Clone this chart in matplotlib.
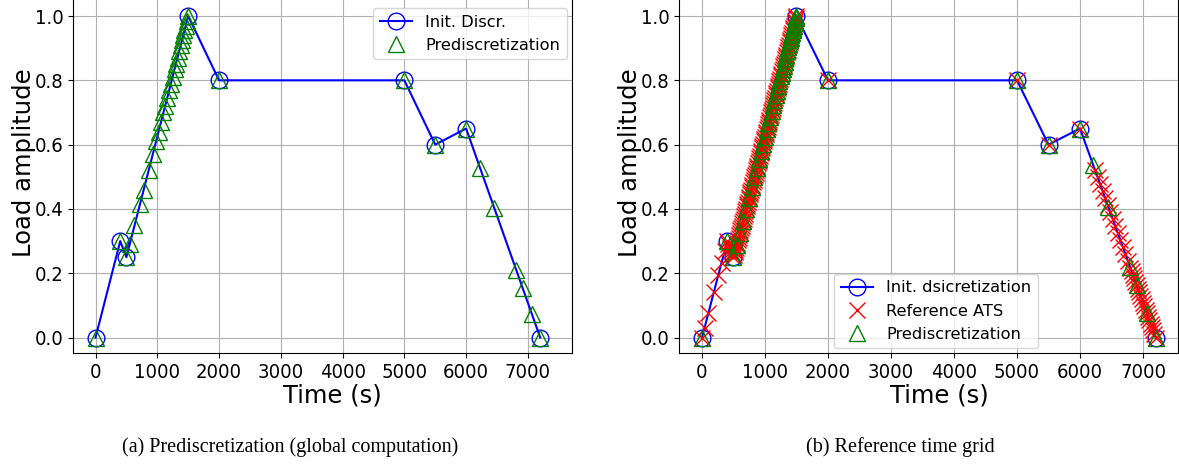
import numpy as np
import matplotlib
matplotlib.use("Agg")
import matplotlib.pyplot as plt

# initial discretization of the load path
t_init = [0, 400, 500, 1500, 2000, 5000, 5500, 6000, 7200]
y_init = [0.0, 0.3, 0.25, 1.0, 0.8, 0.8, 0.6, 0.65, 0.0]

# prediscretization, global computation (panel a)
t_pre_a = [0, 400, 500, 550, 630, 720, 780, 860, 930, 980, 1020, 1060, 1100,
           1130, 1160, 1190, 1220, 1250, 1280, 1300, 1330, 1350, 1380, 1400,
           1420, 1440, 1460, 1480, 1500, 2000, 5000, 5500, 6000, 6227, 6455,
           6810, 6915, 7063, 7200]
y_pre_a = [0.0, 0.3, 0.25, 0.29, 0.35, 0.415, 0.46, 0.52, 0.57, 0.61, 0.64,
           0.67, 0.70, 0.72, 0.745, 0.77, 0.79, 0.81, 0.835, 0.85, 0.87, 0.89,
           0.91, 0.925, 0.94, 0.955, 0.97, 0.985, 1.0, 0.8, 0.8, 0.6, 0.65,
           0.527, 0.403, 0.211, 0.154, 0.074, 0.0]

# prediscretization (panel b)
t_pre_b = [0, 400, 500, 550, 600, 650, 700, 745, 790, 830, 870, 905, 940, 970,
           1000, 1030, 1055, 1080, 1105, 1130, 1150, 1170, 1190, 1210, 1230,
           1250, 1265, 1280, 1295, 1310, 1325, 1340, 1355, 1370, 1385, 1400,
           1410, 1420, 1430, 1440, 1450, 1460, 1470, 1480, 1490, 1500, 2000,
           5000, 5500, 6000, 6211, 6450, 6794, 6900, 7058, 7200]
y_pre_b = [0.0, 0.3, 0.25, 0.288, 0.325, 0.363, 0.4, 0.434, 0.468, 0.498,
           0.528, 0.554, 0.58, 0.603, 0.625, 0.648, 0.666, 0.685, 0.704,
           0.723, 0.738, 0.753, 0.768, 0.783, 0.798, 0.813, 0.824, 0.835,
           0.846, 0.858, 0.869, 0.88, 0.891, 0.903, 0.914, 0.925, 0.933, 0.94,
           0.948, 0.955, 0.963, 0.97, 0.978, 0.985, 0.993, 1.0, 0.8, 0.8, 0.6,
           0.65, 0.536, 0.406, 0.22, 0.163, 0.077, 0.0]

# reference adaptive time stepping
t_ref = [0, 40, 100, 190, 260, 310, 360, 400, 420, 440, 460, 480,
         500, 520, 540, 560, 580, 600, 620, 640, 660, 680, 700, 720, 740,
         760, 780, 800, 820, 840, 860, 880, 900, 920, 940, 960, 980, 1000,
         1020, 1040, 1060, 1080, 1100, 1120, 1140, 1160, 1180, 1200, 1220,
         1240, 1260, 1280, 1300, 1320, 1340, 1360, 1380, 1400, 1420, 1440,
         1460, 1480, 1500,
         510, 530, 550, 570, 590, 610, 630, 650, 670, 690, 710, 730, 750,
         770, 790, 810, 830, 850, 870, 890, 910, 930, 950, 970, 990, 1010,
         1030, 1050, 1070, 1090, 1110, 1130, 1150, 1170, 1190, 1210, 1230,
         1250, 1270, 1290, 1310, 1330, 1350, 1370, 1390, 1410, 1430, 1450,
         1470, 1490,
         2000, 5000, 5500, 6000,
         6240, 6280, 6320, 6360, 6400, 6440, 6480, 6520, 6560, 6600, 6640,
         6680, 6720, 6760, 6800, 6820, 6840, 6860, 6880, 6900, 6920, 6940,
         6960, 6980, 7000, 7020, 7040, 7060, 7080, 7100, 7120, 7140, 7160,
         7180, 7200]
y_ref = [0.0, 0.03, 0.075, 0.143, 0.195, 0.233, 0.27, 0.3, 0.29, 0.28, 0.27,
         0.26,
         0.25, 0.265, 0.28, 0.295, 0.31, 0.325, 0.34, 0.355, 0.37, 0.385, 0.4,
         0.415, 0.43, 0.445, 0.46, 0.475, 0.49, 0.505, 0.52, 0.535, 0.55,
         0.565, 0.58, 0.595, 0.61, 0.625, 0.64, 0.655, 0.67, 0.685, 0.7,
         0.715, 0.73, 0.745, 0.76, 0.775, 0.79, 0.805, 0.82, 0.835, 0.85,
         0.865, 0.88, 0.895, 0.91, 0.925, 0.94, 0.955, 0.97, 0.985, 1.0,
         0.258, 0.273, 0.288, 0.303, 0.318, 0.333, 0.348, 0.363, 0.378, 0.393,
         0.408, 0.423, 0.438, 0.453, 0.468, 0.483, 0.498, 0.513, 0.528, 0.543,
         0.558, 0.573, 0.588, 0.603, 0.618, 0.633, 0.648, 0.663, 0.678, 0.693,
         0.708, 0.723, 0.738, 0.753, 0.768, 0.783, 0.798, 0.813, 0.828, 0.843,
         0.858, 0.873, 0.888, 0.903, 0.918, 0.933, 0.948, 0.963, 0.978, 0.993,
         0.8, 0.8, 0.6, 0.65,
         0.52, 0.498, 0.477, 0.455, 0.433, 0.412, 0.39, 0.368, 0.347, 0.325,
         0.303, 0.282, 0.26, 0.238, 0.217, 0.206, 0.195, 0.184, 0.173, 0.163,
         0.152, 0.141, 0.13, 0.119, 0.108, 0.098, 0.087, 0.076, 0.065, 0.054,
         0.043, 0.033, 0.022, 0.011, 0.0]

plt.rcParams['font.family'] = 'DejaVu Sans'

fig = plt.figure(figsize=(11.79, 4.66), dpi=100)
ax1 = fig.add_axes([73 / 1179, 1 - 353 / 466, (571.7 - 73) / 1179, 355 / 466])
ax2 = fig.add_axes([679.3 / 1179, 1 - 353 / 466, (1178.3 - 679.3) / 1179, 355 / 466])

ms = 12
for ax in (ax1, ax2):
    ax.grid(True, color='#b0b0b0', linewidth=0.8)
    ax.set_axisbelow(True)

ax1.plot(t_init, y_init, '-o', color='blue', mfc='none', ms=ms, lw=1.5,
         label='Init. Discr.')
ax1.plot(t_pre_a, y_pre_a, '^', color='green', mfc='none', ms=ms, ls='none',
         label='Prediscretization')
ax1.set_xlim(-365, 7710)
ax1.legend(loc='upper right', fontsize=11.7, borderaxespad=0.3,
           handlelength=2.0, bbox_to_anchor=(1.0, 0.985))

ax2.plot(t_init, y_init, '-o', color='blue', mfc='none', ms=ms, lw=1.5,
         label='Init. dsicretization')
ax2.plot(t_ref, y_ref, 'x', color='red', ms=ms, ls='none',
         label='Reference ATS')
ax2.plot(t_pre_b, y_pre_b, '^', color='green', mfc='none', ms=ms, ls='none',
         label='Prediscretization')
ax2.set_xlim(-360, 7560)
ax2.legend(loc='lower center', bbox_to_anchor=(0.515, 0.0), fontsize=11.7,
           borderaxespad=0.3, handlelength=2.0)

for ax in (ax1, ax2):
    ax.set_ylim(-0.048, 1.056)
    ax.set_xticks([0, 1000, 2000, 3000, 4000, 5000, 6000, 7000])
    ax.set_yticks([0.0, 0.2, 0.4, 0.6, 0.8, 1.0])
    ax.tick_params(labelsize=14.5)
    for lab in ax.get_xticklabels() + ax.get_yticklabels():
        lab.set_fontstretch('condensed')
    ax.set_xlabel('Time (s)', fontsize=17.5)
    ax.set_ylabel('Load amplitude', fontsize=17.5)
    ax.xaxis.set_label_coords(0.521, -0.085)
    ax.yaxis.set_label_coords(-0.074, 0.537)

fig.text(290 / 1179, 1 - 447 / 466, '(a) Prediscretization (global computation)',
         ha='center', va='center', family='Liberation Serif', fontsize=14.5)
fig.text(900 / 1179, 1 - 447 / 466, '(b) Reference time grid',
         ha='center', va='center', family='Liberation Serif', fontsize=14.5)

fig.savefig('out.png', dpi=100)
